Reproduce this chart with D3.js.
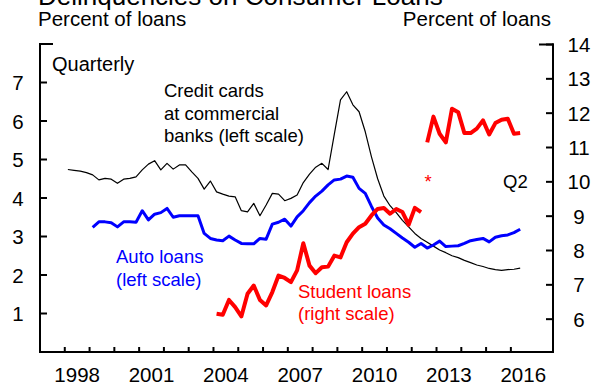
<!DOCTYPE html>
<html>
<head>
<meta charset="utf-8">
<script src="https://cdn.jsdelivr.net/npm/d3@7"></script>
<style>
  html, body { margin: 0; padding: 0; background: #fff; }
  svg { display: block; font-family: "Liberation Sans", Arial, sans-serif; }
</style>
</head>
<body>
<svg id="chart" width="600" height="385"></svg>
<script>
// ---- Data (quarterly) ----
const creditCardStart = 1998;   // first quarter: 1998 Q1
const creditCards = [
  4.74, 4.72, 4.70, 4.66,
  4.60, 4.47, 4.51, 4.49,
  4.38, 4.49, 4.51, 4.55,
  4.73, 4.88, 4.97, 4.73,
  4.90, 4.75, 4.86, 4.86,
  4.68, 4.51, 4.23, 4.44,
  4.16, 4.10, 4.05, 4.03,
  3.67, 3.64, 3.86, 3.54,
  3.82, 4.12, 4.10, 3.93,
  3.99, 4.08, 4.40, 4.62,
  4.80, 4.90, 4.74, 5.65,
  6.55, 6.76, 6.42, 6.24,
  5.72, 5.07, 4.50, 4.05,
  3.80, 3.62, 3.42, 3.25,
  3.08, 2.95, 2.85, 2.75,
  2.65, 2.58, 2.50, 2.45,
  2.38, 2.32, 2.26, 2.22,
  2.17, 2.14, 2.12, 2.14,
  2.15, 2.18
];
const autoStart = 1999;         // first quarter: 1999 Q1
const autoLoans = [
  3.24, 3.38, 3.38, 3.36,
  3.25, 3.38, 3.38, 3.37,
  3.67, 3.43, 3.58, 3.62,
  3.73, 3.50, 3.54, 3.54,
  3.54, 3.54, 3.08, 2.95,
  2.91, 2.89, 3.01, 2.91,
  2.82, 2.81, 2.81, 2.95,
  2.93, 3.32, 3.37, 3.45,
  3.27, 3.51, 3.67, 3.88,
  4.05, 4.18, 4.34, 4.47,
  4.49, 4.57, 4.54, 4.25,
  4.12, 3.78, 3.48, 3.30,
  3.20, 3.08, 2.96, 2.85,
  2.72, 2.82, 2.70, 2.78,
  2.88, 2.74, 2.75, 2.76,
  2.82, 2.89, 2.92, 2.95,
  2.86, 2.98, 3.02, 3.04,
  3.10, 3.19
];
const studentStartA = 2004;     // 2004 Q1
const studentLoansA = [
  6.16, 6.13, 6.56, 6.35,
  6.08, 6.74, 6.98, 6.56,
  6.40, 6.79, 7.27, 7.20,
  7.08, 7.42, 8.21, 7.56,
  7.34, 7.51, 7.53, 7.85,
  7.80, 8.24, 8.49, 8.68,
  8.78, 9.02, 9.21, 9.24,
  9.07, 9.21, 9.12, 8.75,
  9.24, 9.12
];
const studentStartB = 2012.5;   // 2012 Q3
const studentLoansB = [
  11.15, 11.90,
  11.40, 11.15, 12.13, 12.03,
  11.42, 11.42, 11.55, 11.79,
  11.38, 11.71, 11.81, 11.84,
  11.40, 11.42
];
const xTickYears = [1998,1999,2000,2001,2002,2003,2004,2005,2006,2007,2008,2009,2010,2011,2012,2013,2014,2015,2016];
const xLabelYears = [1998, 2001, 2004, 2007, 2010, 2013, 2016];
const leftTicks = [1, 2, 3, 4, 5, 6, 7];
const rightTicks = [6, 7, 8, 9, 10, 11, 12, 13, 14];

// ---- Scales ----
const svg = d3.select("#chart");
const x = d3.scaleLinear().domain([1997, 2017.7]).range([40, 553]);
const yL = d3.scaleLinear().domain([0, 8]).range([352, 44]);
const yR = d3.scaleLinear().domain([5, 14]).range([353.5, 44.5]);

const toPts = (start, arr) => arr.map((v, i) => ({ t: start + i * 0.25 + 0.125, v }));

// ---- Axes ----
const ax = svg.append("g").attr("stroke", "#000").attr("stroke-width", 2).attr("fill", "none");
ax.append("line").attr("x1", 40).attr("x2", 40).attr("y1", yL(8) - 1).attr("y2", yL(0) + 1);
ax.append("line").attr("x1", 553).attr("x2", 553).attr("y1", yR(14) - 1).attr("y2", yL(0) + 1);
ax.append("line").attr("x1", 39).attr("x2", 554).attr("y1", yL(0)).attr("y2", yL(0));
ax.append("line").attr("x1", 39).attr("x2", 53).attr("y1", yL(8)).attr("y2", yL(8));
ax.append("line").attr("x1", 539).attr("x2", 554).attr("y1", yR(14)).attr("y2", yR(14));
ax.selectAll(".lt").data(leftTicks).enter().append("line")
  .attr("x1", 40).attr("x2", 47).attr("y1", d => yL(d)).attr("y2", d => yL(d));
ax.selectAll(".rt").data(rightTicks).enter().append("line")
  .attr("x1", 546).attr("x2", 553).attr("y1", d => yR(d)).attr("y2", d => yR(d));
ax.selectAll(".bt").data(xTickYears).enter().append("line")
  .attr("x1", d => x(d)).attr("x2", d => x(d)).attr("y1", yL(0)).attr("y2", yL(0) - 5);

// tick labels
const tl = svg.append("g").attr("fill", "#000").style("font-size", "20.5px");
tl.selectAll(".ll").data(leftTicks).enter().append("text")
  .attr("x", 18).attr("y", d => yL(d)).attr("text-anchor", "middle")
  .attr("dominant-baseline", "central").text(d => d);
tl.selectAll(".rl").data(rightTicks).enter().append("text")
  .attr("x", 579).attr("y", d => yR(d)).attr("text-anchor", "middle")
  .attr("dominant-baseline", "central").text(d => d);
tl.selectAll(".xl").data(xLabelYears).enter().append("text")
  .attr("x", d => x(d + 0.5)).attr("y", 381.5).attr("text-anchor", "middle").text(d => d);

// ---- Lines ----
const lineL = d3.line().x(d => x(d.t)).y(d => yL(d.v));
const lineR = d3.line().x(d => x(d.t)).y(d => yR(d.v));

svg.append("path").datum(toPts(creditCardStart, creditCards))
  .attr("d", lineL).attr("fill", "none").attr("stroke", "#000").attr("stroke-width", 1.2)
  .attr("stroke-linejoin", "round");
svg.append("path").datum(toPts(autoStart, autoLoans))
  .attr("d", lineL).attr("fill", "none").attr("stroke", "#0000ff").attr("stroke-width", 3)
  .attr("stroke-linejoin", "round");
svg.append("path").datum(toPts(studentStartA, studentLoansA))
  .attr("d", lineR).attr("fill", "none").attr("stroke", "#ff0000").attr("stroke-width", 4)
  .attr("stroke-linejoin", "round");
svg.append("path").datum(toPts(studentStartB, studentLoansB))
  .attr("d", lineR).attr("fill", "none").attr("stroke", "#ff0000").attr("stroke-width", 4)
  .attr("stroke-linejoin", "round");

// ---- Text ----
const txt = (s, xx, yy, opts = {}) => svg.append("text")
  .attr("x", xx).attr("y", yy)
  .attr("fill", opts.fill || "#000")
  .attr("text-anchor", opts.anchor || "start")
  .style("font-size", (opts.size || 18.5) + "px")
  .text(s);

txt("Delinquencies on Consumer Loans", 38, 5, { size: 26 });
txt("Percent of loans", 38, 26, { size: 20.5 });
txt("Percent of loans", 551, 26, { size: 20.5, anchor: "end" });
txt("Quarterly", 52, 71, { size: 20 });
txt("Credit cards", 164, 97);
txt("at commercial", 164, 119.5);
txt("banks (left scale)", 164, 142);
txt("Auto loans", 116, 263, { fill: "#0000ff" });
txt("(left scale)", 116, 286, { fill: "#0000ff" });
txt("Student loans", 298, 298, { fill: "#ff0000" });
txt("(right scale)", 298, 320, { fill: "#ff0000" });
txt("*", 428, 188, { fill: "#ff0000", anchor: "middle" });
txt("Q2", 503, 188);
</script>
</body>
</html>
